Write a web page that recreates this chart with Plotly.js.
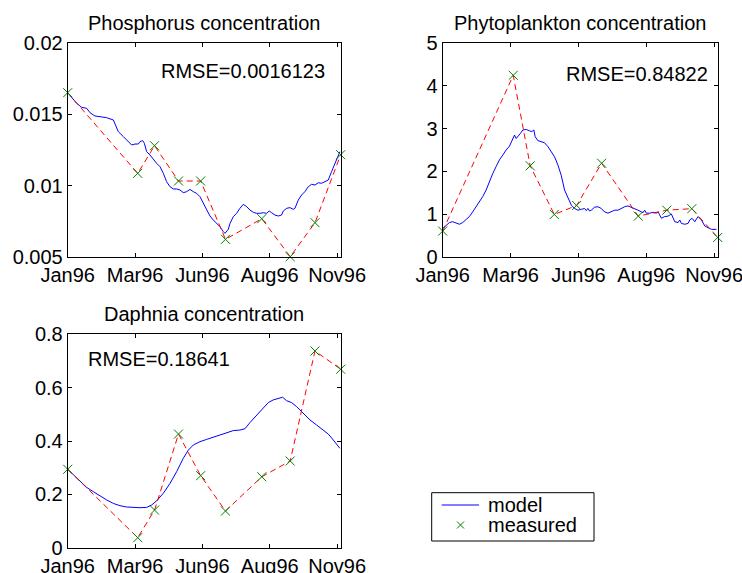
<!DOCTYPE html>
<html><head><meta charset="utf-8">
<script src="https://cdn.plot.ly/plotly-3.0.1.min.js"></script>
<style>html,body{margin:0;padding:0;background:#fff;}#chart{width:742px;height:573px;}</style>
</head><body><div id="chart"></div>
<script>
// x in days since 1 Jan 1996
const tickDays = [0, 76, 152, 228, 304];
const tickLabels = ['Jan96', 'Mar96', 'Jun96', 'Aug96', 'Nov96'];

const measDay = [0, 79, 98, 125, 150, 178, 219, 251, 279, 308];

const phosModelDay = [0,10.1,15.8,21.4,25.2,30.8,36.5,44,51.5,57.1,62.8,68.4,72.2,75.9,79.7,81.6,84.6,86.5,89.1,92.8,96.6,100.4,104.1,107.9,111.6,115.4,119.2,122.9,126.7,130.4,134.2,138,141.7,145.5,149.2,153,156.8,160.5,164.3,168,171.8,175.6,177.4,181.2,183.1,186.8,190.6,194.3,198.1,201.9,205.6,209.4,213.1,216.9,220.7,224.4,227.4,230.1,233.8,237.6,241.3,243.2,247,250.7,254.5,256.4,260.1,263.9,267.6,271.4,275.2,278.9,282.7,286.4,290.2,294,297.7,301.5,305.2,307.1];
const phosModel = [0.01653,0.01578,0.0155,0.01543,0.01512,0.01489,0.01484,0.01477,0.01461,0.01379,0.01344,0.01309,0.01285,0.01292,0.01292,0.01309,0.01316,0.01297,0.01238,0.01215,0.01184,0.01156,0.01133,0.01086,0.01027,0.00992,0.00976,0.00976,0.00969,0.0095,0.00957,0.00973,0.00957,0.00945,0.00922,0.00875,0.00828,0.00786,0.00758,0.00734,0.00711,0.00676,0.00664,0.00692,0.00734,0.00781,0.00805,0.0084,0.00868,0.00852,0.00828,0.00812,0.00805,0.00805,0.00809,0.00805,0.00821,0.00809,0.00793,0.00786,0.00793,0.00821,0.0084,0.00845,0.00833,0.0084,0.00898,0.00934,0.00957,0.00992,0.01009,0.01004,0.0102,0.01016,0.01027,0.01039,0.01098,0.01156,0.01215,0.01238];
const phosMeas = [0.01653,0.01086,0.0128,0.01032,0.01032,0.00622,0.00767,0.005,0.00739,0.01217];

const phyModelDay = [0,3.7,7.5,11.2,15,18.7,22.4,26.2,29.9,33.6,37.4,41.1,44.9,48.6,52.3,56.1,59.8,63.6,67.3,71,74.8,76.6,78.5,80.4,82.3,84.1,87.1,89.7,93.5,97.2,99.8,102.1,103.6,106.6,110.3,114,117.8,121.5,125.3,129,132.7,136.5,140.2,144,147.7,151.4,155.2,158.9,160.8,162.6,164.5,166.4,170.1,173.9,177.6,181.3,185.1,188.8,192.6,196.3,200,203.8,207.5,211.3,215,218.7,222.5,224.3,226.2,228.1,231.8,235.6,239.3,241.2,243,244.9,248.6,252.4,256.1,258,259.9,263.6,265.5,267.3,271.1,274.8,276.7,279.3,282.3,286,289.8,293.5,297.2,301,306.6];
const phyModel = [0.66,0.74,0.80,0.82,0.78,0.76,0.80,0.86,0.94,1.05,1.17,1.29,1.41,1.56,1.76,1.95,2.11,2.27,2.38,2.5,2.59,2.67,2.73,2.85,2.77,2.81,2.89,2.97,2.98,2.95,2.93,2.97,2.81,2.72,2.70,2.67,2.58,2.46,2.34,2.15,1.91,1.56,1.37,1.21,1.13,1.09,1.11,1.13,1.08,1.13,1.07,1.09,1.16,1.17,1.13,1.05,1.02,1.05,1.09,1.09,1.13,1.17,1.19,1.16,1.13,1.09,1.05,1.03,1.09,1.02,1.02,1.04,1.02,1.05,0.98,0.90,0.94,0.95,1.0,0.90,0.82,0.80,0.86,0.78,0.76,0.78,0.86,0.90,0.82,0.94,0.86,0.72,0.68,0.64,0.64];
const phyMeas = [0.60,4.25,2.13,0.99,1.20,2.19,0.95,1.09,1.125,0.45];

const daphModelDay = [0,6.4,13.9,21.4,28.9,36.5,44,51.5,59,66.5,74.1,81.6,89.1,94.7,100.4,107.9,115.4,122.9,130.4,136.1,141.7,149.2,156.8,164.3,171.8,179.3,186.8,194.3,200,205.6,213.1,220.7,226.3,231.9,239.4,242.5,247,252.6,258.2,265.8,273.3,280.8,288.3,294,299.6,303.4,307.1];
const daphModel = [0.294,0.2725,0.2475,0.226,0.21,0.194,0.179,0.166,0.1575,0.1525,0.15,0.15,0.151,0.16,0.176,0.204,0.241,0.285,0.335,0.366,0.385,0.3975,0.406,0.414,0.421,0.431,0.439,0.441,0.446,0.469,0.4975,0.5225,0.544,0.554,0.56,0.564,0.551,0.544,0.529,0.504,0.479,0.46,0.441,0.426,0.404,0.389,0.3725];
const daphMeas = [0.294,0.0375,0.141,0.426,0.27,0.1375,0.266,0.325,0.7375,0.669];

const titles = ['Phosphorus concentration', 'Phytoplankton concentration', 'Daphnia concentration'];
const rmseTexts = ['RMSE=0.0016123', 'RMSE=0.84822', 'RMSE=0.18641'];
const legendLabels = ['model', 'measured'];

const FONT = '"Liberation Sans", Arial, Helvetica, sans-serif';
const FS = 20;
const W = 742, H = 573;
const boxes = [
  {l: 67.7, r: 340.7, t: 43.3, b: 256.7},
  {l: 442.7, r: 717.7, t: 43.3, b: 256.7},
  {l: 67.7, r: 340.7, t: 334.3, b: 547.7}
];
const yRanges = [[0.005, 0.02], [0, 5], [0, 0.8]];
const yDt = [0.005, 1, 0.2];

const sets = [
  [phosModelDay, phosModel, phosMeas],
  [phyModelDay, phyModel, phyMeas],
  [daphModelDay, daphModel, daphMeas]
];

const BLUE = '#0000ff', RED = '#ff0000', GREEN = '#008000';
const traces = [];
sets.forEach((s, i) => {
  const xa = i === 0 ? 'x' : 'x' + (i + 1);
  const ya = i === 0 ? 'y' : 'y' + (i + 1);
  traces.push({x: s[0], y: s[1], xaxis: xa, yaxis: ya, type: 'scatter', mode: 'lines',
    line: {color: BLUE, width: 1}, name: legendLabels[0], showlegend: false});
  traces.push({x: measDay, y: s[2], xaxis: xa, yaxis: ya, type: 'scatter', mode: 'lines',
    line: {color: RED, width: 1, dash: '6px,4px'}, showlegend: false});
  traces.push({x: measDay, y: s[2], xaxis: xa, yaxis: ya, type: 'scatter', mode: 'markers',
    cliponaxis: false,
    marker: {symbol: 'x-thin-open', size: 9, color: GREEN, line: {color: GREEN, width: 1}},
    name: legendLabels[1], showlegend: false});
});

const layout = {
  width: W, height: H,
  margin: {l: 0, r: 0, t: 0, b: 0},
  paper_bgcolor: '#fff', plot_bgcolor: '#fff',
  font: {family: FONT, size: FS, color: '#000'},
  showlegend: false,
  annotations: [],
  shapes: []
};

boxes.forEach((b, i) => {
  const sx = i === 0 ? '' : String(i + 1);
  layout['xaxis' + sx] = {
    domain: [b.l / W, b.r / W], anchor: 'y' + sx, range: [0, 308],
    tickmode: 'array', tickvals: tickDays, ticktext: tickLabels, ticklabeloverflow: 'allow',
    ticks: 'inside', ticklen: 4, tickcolor: '#000', showline: true, linecolor: '#000', linewidth: 1,
    mirror: 'ticks', showgrid: false, zeroline: false, tickfont: {size: FS}
  };
  layout['yaxis' + sx] = {
    domain: [1 - b.b / H, 1 - b.t / H], anchor: 'x' + sx, range: yRanges[i], dtick: yDt[i], tick0: 0,
    ticklabeloverflow: 'allow',
    ticks: 'inside', ticklen: 4, tickcolor: '#000', showline: true, linecolor: '#000', linewidth: 1,
    mirror: 'ticks', showgrid: false, zeroline: false, tickfont: {size: FS}
  };
  layout.annotations.push({xref: 'paper', yref: 'paper', x: (b.l + b.r) / 2 / W, y: 1 - (b.t - 20) / H,
    text: titles[i], showarrow: false, xanchor: 'center', yanchor: 'middle', font: {size: FS}});
});
const rmsePos = [[159.3, 71], [564.3, 74], [86, 359]];
rmsePos.forEach((p, i) => {
  layout.annotations.push({xref: 'paper', yref: 'paper', x: p[0] / W, y: 1 - p[1] / H,
    text: rmseTexts[i], showarrow: false, xanchor: 'left', yanchor: 'middle', font: {size: FS}});
});

// Legend (drawn as box + samples + labels, in paper pixels)
const px = v => v / W, py = v => 1 - v / H;
const leg = {l: 431.7, r: 594, t: 492.7, b: 541, row1: 505, row2: 525, textX: 486};
layout.shapes.push({type: 'rect', xref: 'paper', yref: 'paper', x0: px(leg.l), x1: px(leg.r), y0: py(leg.b), y1: py(leg.t),
  line: {color: '#000', width: 1}, fillcolor: '#fff', layer: 'above'});
layout.shapes.push({type: 'line', xref: 'paper', yref: 'paper', x0: px(441.7), x1: px(479), y0: py(leg.row1), y1: py(leg.row1),
  line: {color: BLUE, width: 1}, layer: 'above'});
const mx = 460.5, mh = 3.5;
layout.shapes.push({type: 'line', xref: 'paper', yref: 'paper', x0: px(mx - mh), x1: px(mx + mh), y0: py(leg.row2 - mh), y1: py(leg.row2 + mh),
  line: {color: GREEN, width: 1}, layer: 'above'});
layout.shapes.push({type: 'line', xref: 'paper', yref: 'paper', x0: px(mx - mh), x1: px(mx + mh), y0: py(leg.row2 + mh), y1: py(leg.row2 - mh),
  line: {color: GREEN, width: 1}, layer: 'above'});
[leg.row1, leg.row2].forEach((r, k) => {
  layout.annotations.push({xref: 'paper', yref: 'paper', x: px(leg.textX), y: py(r), text: legendLabels[k],
    showarrow: false, xanchor: 'left', yanchor: 'middle', font: {size: FS}});
});

Plotly.newPlot('chart', traces, layout, {displayModeBar: false, staticPlot: true});
</script></body></html>
